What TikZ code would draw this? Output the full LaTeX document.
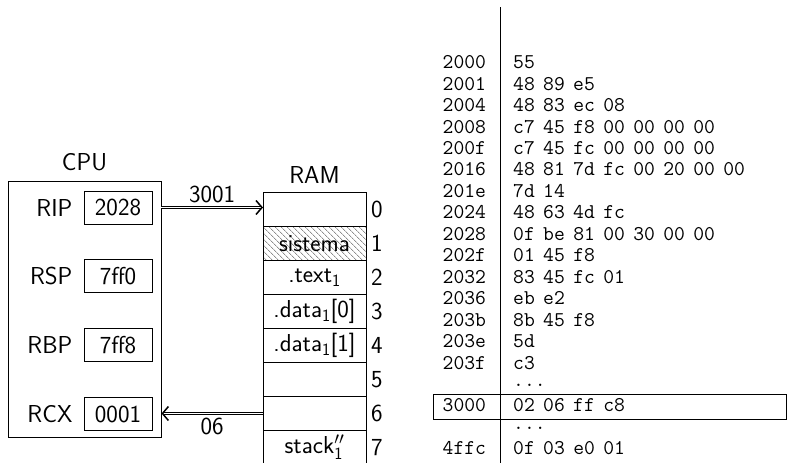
\documentclass[tikz,border=0pt]{standalone}
\usepackage{tikz}
\usetikzlibrary{arrows.meta,positioning,patterns.meta}
\definecolor{hatch}{HTML}{505050}
\newcommand{\lblfont}{\fontsize{24.5}{29}\selectfont\sffamily}
\newcommand{\hexfont}{\fontsize{21}{25}\selectfont\ttfamily\spaceskip=8.4pt\relax}
\newcommand{\subone}{\mathsf{1}}
\newcommand{\ellip}{\raisebox{4pt}{...}}

\begin{document}
\begin{tikzpicture}[x=1pt, y=-1pt, font=\lblfont, node distance=4pt]
  \tikzset{
    outerbox/.style={draw, line width=0.9pt, minimum width=153pt, minimum height=256pt},
    regbox/.style={draw, line width=0.9pt, minimum width=68pt, minimum height=33pt, inner sep=0pt},
    cell/.style={draw, line width=0.9pt, outer sep=0pt, minimum width=103pt, minimum height=34pt, inner sep=0pt},
    bus/.style={double, double distance=1.4pt, line width=0.7pt, -{Straight Barb[length=6pt, width=14pt, line width=1.5pt]}},
    hexrow/.style={font=\hexfont, anchor=west, inner sep=0pt, text height=12.8pt, text depth=0pt},
  }
  \useasboundingbox (0,0) rectangle (787,463);
  % CPU and its registers
  \node[outerbox] (cpu) at (84.5,309) {};
  \node[above=6pt of cpu] (cpulbl) {CPU};
  \node[regbox] (rip) at (118,207.5) {2028};
  \node[regbox, below=35pt of rip] (rsp) {7ff0};
  \node[regbox, below=35pt of rsp] (rbp) {7ff8};
  \node[regbox, below=35pt of rbp] (rcx) {0001};
  \node[left=11pt of rip, inner sep=0pt] (riplbl) {RIP};
  \node[left=11pt of rsp, inner sep=0pt] (rsplbl) {RSP};
  \node[left=11pt of rbp, inner sep=0pt] (rbplbl) {RBP};
  \node[left=11pt of rcx, inner sep=0pt] (rcxlbl) {RCX};
  % RAM
  \node[cell] (ram0) at (314.5,209.5) {};
  \node[cell, below=0pt of ram0, pattern={Lines[angle=-45, distance=4pt, line width=0.6pt]}, pattern color=hatch] (ram1) {sistema};
  \node[cell, below=0pt of ram1] (ram2) {.text$_\subone$};
  \node[cell, below=0pt of ram2] (ram3) {.data$_\subone$[0]};
  \node[cell, below=0pt of ram3] (ram4) {.data$_\subone$[1]};
  \node[cell, below=0pt of ram4] (ram5) {};
  \node[cell, below=0pt of ram5] (ram6) {};
  \node[cell, below=0pt of ram6] (ram7) {stack$''_\subone$};
  \node[above=5pt of ram0] (ramlbl) {RAM};
  \foreach \i in {0,...,7}
    \node[right=5pt of ram\i, inner sep=0pt] (idx\i) {\i};
  % buses
  \draw[bus] (rip -| cpu.east) -- node[above=1pt] (fetch) {3001} (rip -| ram0.west);
  \draw[bus] (ram6.west) -- node[below=1pt] (load) {06} (ram6.west -| cpu.east);
  % listing
  \coordinate (bartop) at (500.5,7);
  \coordinate (barbot) at (500.5,463);
  \draw[line width=0.9pt] (bartop) -- (barbot);
  \node[draw, line width=0.9pt, minimum width=353pt, minimum height=24.7pt, inner sep=0pt] (cur) at (609.5,406.7) {};
  \foreach \adr/\hex [count=\i from 0] in {2000/55, 2001/48 89 e5, 2004/48 83 ec 08,
      2008/c7 45 f8 00 00 00 00, 200f/c7 45 fc 00 00 00 00, 2016/48 81 7d fc 00 20 00 00,
      201e/7d 14, 2024/48 63 4d fc, 2028/0f be 81 00 30 00 00, 202f/01 45 f8,
      2032/83 45 fc 01, 2036/eb e2, 203b/8b 45 f8, 203e/5d, 203f/c3, {}/\ellip,
      3000/02 06 ff c8, {}/\ellip, 4ffc/0f 03 e0 01}{
    \node[hexrow] (a\i) at (442.5,{62.3+21.45*\i}) {\adr};
    \node[hexrow] (h\i) at (513,{62.3+21.45*\i}) {\hex};
  }
\end{tikzpicture}
\end{document}
